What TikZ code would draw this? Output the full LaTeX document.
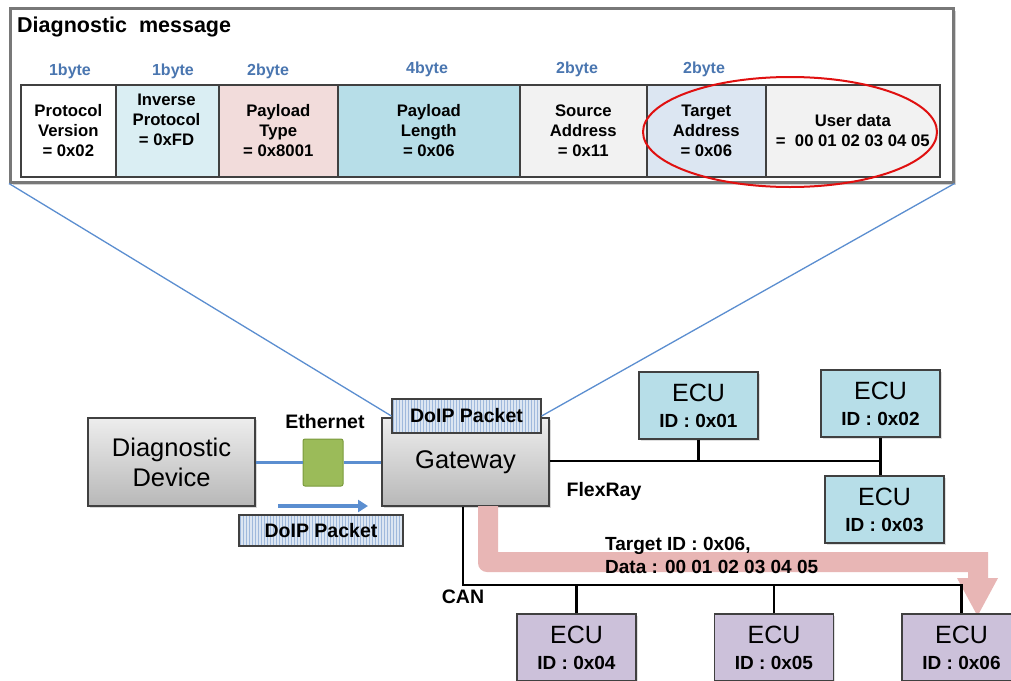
\documentclass[tikz,border=0pt]{standalone}
\usepackage{fontspec}
\setmainfont{Liberation Sans}
\usetikzlibrary{patterns,shadows,arrows.meta,shapes.geometric}
\definecolor{bluelbl}{HTML}{4A76B0}
\definecolor{cA}{HTML}{FFFFFF}
\definecolor{cB}{HTML}{DAEEF3}
\definecolor{cC}{HTML}{F2DCDB}
\definecolor{cD}{HTML}{B7DEE8}
\definecolor{cE}{HTML}{F2F2F2}
\definecolor{cF}{HTML}{DCE6F2}
\definecolor{ecublue}{HTML}{B7DEE8}
\definecolor{ecupurple}{HTML}{CCC1DA}
\definecolor{linkblue}{HTML}{5B8ED0}
\definecolor{ethgreen}{HTML}{9BBB59}
\definecolor{ethgreenD}{HTML}{7A9A3C}
\definecolor{pinkarrow}{HTML}{E8B6B5}
\definecolor{bord}{HTML}{404040}
\definecolor{doipfill}{HTML}{DCE6F2}
\definecolor{doipline}{HTML}{9FB9DC}
\definecolor{ellred}{HTML}{E01010}
\begin{document}
\begin{tikzpicture}[x=1pt,y=-1pt,
  cell/.style={draw=bord, line width=1.6pt, inner sep=0pt, anchor=north west,
    minimum height=92pt, align=center, font=\fontsize{16.7}{20}\selectfont\bfseries},
  celltext/.style={align=center, inner sep=0pt, font=\fontsize{16.7}{20}\selectfont\bfseries},
  bytelbl/.style={text=bluelbl, font=\fontsize{16}{18}\selectfont\bfseries},
  graybox/.style={draw=bord, line width=1.2pt, top color=white!93!black, bottom color=white!72!black,
    drop shadow={opacity=0.3, shadow xshift=2pt, shadow yshift=-2pt},
    align=center, inner sep=0pt, font=\fontsize{25.5}{30}\selectfont},
  doipbox/.style={draw=bord, line width=1.2pt, preaction={fill=doipfill}, pattern=vertical lines,
    pattern color=doipline, inner sep=0pt, font=\fontsize{19.5}{22}\selectfont\bfseries},
  ecubox/.style={draw=bord, line width=1.2pt, minimum width=119pt, minimum height=67pt, inner sep=0pt,
    align=center, drop shadow={opacity=0.25, shadow xshift=1.5pt, shadow yshift=-1.5pt}},
  ecutext/.style={font=\fontsize{25}{28}\selectfont},
  idtext/.style={font=\fontsize{19}{28}\selectfont\bfseries},
  lbl/.style={font=\fontsize{19.5}{22}\selectfont\bfseries, inner sep=0pt},
  bus/.style={line width=2.3pt, black},
  link/.style={linkblue, line width=1.3pt},
]
\useasboundingbox (0,0) rectangle (1011,680);
\fill[white] (0,0) rectangle (1011,680);

% ---------- top frame ----------
\node[draw={rgb,255:red,120;green,120;blue,120}, line width=2.5pt, fill=white, inner sep=0pt,
  anchor=north west, minimum width=943pt, minimum height=174pt,
  drop shadow={opacity=0.35, shadow xshift=2.5pt, shadow yshift=-2.5pt}] (frame) at (9,7) {};
\node[anchor=west, inner sep=0pt, font=\fontsize{21.5}{24}\selectfont\bfseries] (title) at (17,27) {Diagnostic\ \ message};

\node[cell, fill=cA, minimum width=95pt]  (c1) at (20,84)  {Protocol\\Version\\= 0x02};
\node[cell, fill=cB, minimum width=103pt] (c2) at (115,84) {};
\node[celltext] (c2t) at (166.5,120) {Inverse\\Protocol\\= 0xFD};
\node[cell, fill=cC, minimum width=119pt] (c3) at (218,84) {Payload\\Type\\= 0x8001};
\node[cell, fill=cD, minimum width=182pt] (c4) at (337,84) {Payload\\Length\\= 0x06};
\node[cell, fill=cE, minimum width=127pt] (c5) at (519,84) {Source\\Address\\= 0x11};
\node[cell, fill=cF, minimum width=119pt] (c6) at (646,84) {Target\\Address\\= 0x06};
\node[cell, fill=cE, minimum width=174pt] (c7) at (765,84) {User data\\=\ \ 00 01 02 03 04 05};

\node[bytelbl] (b1) at (70,71)  {1byte};
\node[bytelbl] (b2) at (173,71) {1byte};
\node[bytelbl] (b3) at (268,71) {2byte};
\node[bytelbl] (b4) at (427,69) {4byte};
\node[bytelbl] (b5) at (577,69) {2byte};
\node[bytelbl] (b6) at (704,69) {2byte};

\node[draw=ellred, line width=2pt, ellipse, minimum width=294pt, minimum height=110pt, inner sep=0pt] (sel) at (790,132) {};

% ---------- middle ----------
\node[graybox, minimum width=167pt, minimum height=88pt] (dd) at (171.5,462) {Diagnostic\\Device};
\node[graybox, minimum width=167pt, minimum height=88pt] (gw) at (465.5,462) {\raisebox{-3pt}{Gateway}};
\node[draw=ethgreenD, line width=1pt, fill=ethgreen, rounded corners=2pt, minimum width=40pt, minimum height=47pt, inner sep=0pt] (eth) at (323,462.5) {};
\node[doipbox, minimum width=149pt, minimum height=34pt] (doip1) at (466.5,416) {DoIP Packet};
\node[doipbox, minimum width=164pt, minimum height=31pt] (doip2) at (321,530.5) {DoIP Packet};
\node[lbl] (ethl) at (325,422) {Ethernet};

\draw[link, line width=2.5pt] (dd.east |- eth.west) -- (eth.west);
\draw[link, line width=2.5pt] (eth.east) -- (gw.west |- eth.east);
\draw[link] (frame.south west) -- (doip1.west);
\draw[link] (frame.south east) -- (doip1.east);

\coordinate (ar1) at (278,506);
\coordinate (ar2) at (368,506);
\draw[linkblue, line width=3.5pt, -{Triangle[length=10pt,width=12pt]}] (ar1) -- (ar2);

% ---------- pink arrow (below buses) ----------
\fill[pinkarrow] (478,506) -- (498,506) -- (498,552) -- (988,552) -- (988,578) -- (998,578)
  -- (977.5,616) -- (957,578) -- (968,578) -- (968,572)
  [rounded corners=9pt] -- (478,572) [sharp corners] -- cycle;

% ---------- ECUs ----------
\node[ecubox, fill=ecublue] (e1) at (698.5,405.5) {};
\node[ecubox, fill=ecublue] (e2) at (880.5,403.5) {};
\node[ecubox, fill=ecublue] (e3) at (884.5,509.5) {};
\node[ecubox, fill=ecupurple] (e4) at (576.5,647.5) {};
\node[ecubox, fill=ecupurple] (e5) at (774,647.5) {};
\node[ecubox, fill=ecupurple] (e6) at (961.5,647.5) {};

% buses
\coordinate (frR) at (880.5,461);
\draw[bus] (gw.east |- frR) -- (frR);
\draw[bus] (e1.south) -- (e1.south |- frR);
\draw[bus] (e2.south) -- (e2.south |- e3.north);
\coordinate (canL) at (463,585);
\coordinate (canR) at (961.5,585);
\draw[bus] (canL |- gw.south) -- (canL) -- (canR) -- (e6.north);
\draw[bus] (e4.north) -- (e4.north |- canR);
\draw[bus] (e5.north) -- (e5.north |- canR);

% ECU texts
\foreach \n/\id in {e1/01,e2/02,e3/03,e4/04,e5/05,e6/06}{
  \node[ecutext] (\n t) at ([yshift=-21pt]\n.north) {ECU};
  \node[idtext] (\n i) at ([yshift=-50pt]\n.north) {ID : 0x\id};
}

\node[lbl] (flex) at (604,491) {FlexRay};
\node[lbl] (can) at (463,597) {CAN};
\node[lbl, anchor=west, align=left, font=\fontsize{19}{23}\selectfont\bfseries] (tgt) at (605,555.5) {Target ID : 0x06,\\Data : 00 01 02 03 04 05};
\end{tikzpicture}
\end{document}
